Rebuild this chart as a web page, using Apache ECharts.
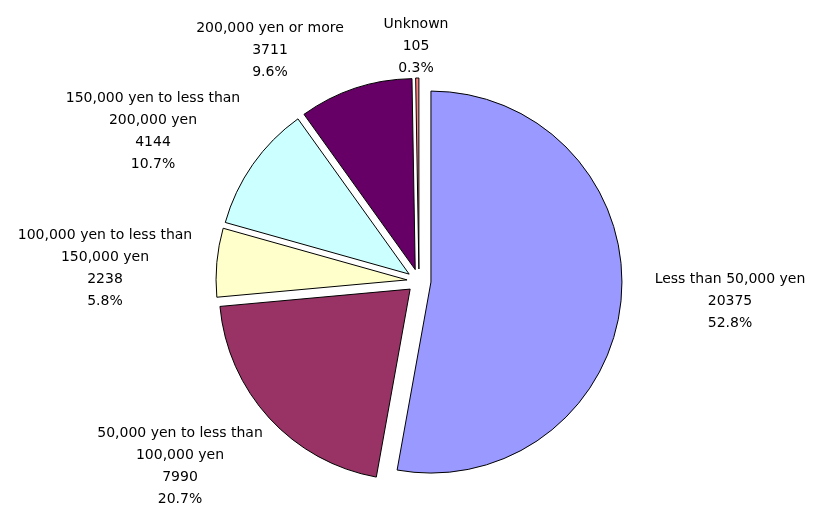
<!DOCTYPE html>
<html>
<head>
<meta charset="utf-8">
<script src="https://cdn.jsdelivr.net/npm/echarts@6/dist/echarts.min.js"></script>
<style>
html,body{margin:0;padding:0;background:#fff;}
#chart{width:816px;height:507px;}
</style>
</head>
<body>
<div id="chart"></div>
<script>
// Data
const categories = [
  'Less than 50,000 yen',
  '50,000 yen to less than\n100,000 yen',
  '100,000 yen to less than\n150,000 yen',
  '150,000 yen to less than\n200,000 yen',
  '200,000 yen or more',
  'Unknown'
];
const values = [20375, 7990, 2238, 4144, 3711, 105];

// Styling / layout (kept separate from data)
const colors = ['#9999FF', '#993366', '#FFFFCC', '#CCFFFF', '#660066', '#FF8080'];
const labelCenters = [[730, 301], [180, 466], [105, 268], [153, 131], [270, 50], [416, 46]];

const total = values.reduce((a, b) => a + b, 0);
const labelText = (i) => categories[i] + '\n' + values[i] + '\n' + (values[i] / total * 100).toFixed(1) + '%';

const chart = echarts.init(document.getElementById('chart'), null, {renderer: 'canvas'});
chart.setOption({
  animation: false,
  backgroundColor: '#ffffff',
  graphic: categories.map((c, i) => ({
    type: 'text',
    x: labelCenters[i][0],
    y: labelCenters[i][1],
    silent: true,
    style: {
      text: labelText(i),
      font: '14px "DejaVu Sans"',
      fill: '#000000',
      align: 'center',
      textAlign: 'center',
      verticalAlign: 'middle',
      textVerticalAlign: 'middle',
      lineHeight: 22
    }
  })),
  series: [{
    type: 'pie',
    center: [419, 281],
    radius: [0, 191],
    startAngle: 90,
    clockwise: true,
    selectedMode: 'multiple',
    selectedOffset: 12,
    avoidLabelOverlap: false,
    emphasis: {disabled: true},
    itemStyle: {borderColor: '#000000', borderWidth: 1},
    select: {itemStyle: {borderColor: '#000000', borderWidth: 1}},
    label: {show: false},
    labelLine: {show: false},
    data: categories.map((name, i) => ({
      name: name,
      value: values[i],
      selected: true,
      itemStyle: {color: colors[i]}
    }))
  }]
});
</script>
</body>
</html>
